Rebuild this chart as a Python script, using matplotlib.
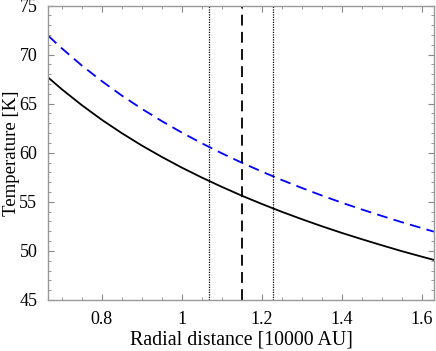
import matplotlib
matplotlib.use("Agg")
import matplotlib.pyplot as plt
from matplotlib.ticker import MultipleLocator, FuncFormatter

# Values
radius = [0.6665, 0.70, 0.75, 0.80, 0.85, 0.90, 0.95, 1.00, 1.05, 1.10, 1.15,
          1.20, 1.25, 1.30, 1.35, 1.40, 1.45, 1.50, 1.55, 1.60, 1.631]
temp_solid = [67.65, 66.47, 64.85, 63.36, 62.00, 60.74, 59.58, 58.49, 57.48, 56.53, 55.63,
              54.79, 53.99, 53.24, 52.52, 51.84, 51.20, 50.58, 49.98, 49.42, 49.08]
temp_dashed = [71.9, 70.64, 68.89, 67.30, 65.83, 64.48, 63.23, 62.06, 60.97, 59.95, 58.99,
               58.09, 57.23, 56.42, 55.65, 54.92, 54.23, 53.57, 52.93, 52.33, 51.96]
r_centre = 1.15
r_bounds = [1.069, 1.229]

plt.rcParams['font.family'] = ['Liberation Serif', 'DejaVu Serif']

fig = plt.figure(figsize=(4.36, 3.51), dpi=100)
ax = fig.add_axes([0.111, 0.1453, 0.8844, 0.839])

ax.plot(radius, temp_dashed, color='blue', lw=1.3, dashes=(6, 3.5))
ax.plot(radius, temp_solid, color='black', lw=1.3)
ax.axvline(r_centre, color='black', lw=1.3, dashes=(6, 3.5))
for rb in r_bounds:
    ax.axvline(rb, color='black', lw=0.9, ls=(0, (1, 1)))

ax.set_xlim(0.6665, 1.631)
ax.set_ylim(45, 75)
ax.xaxis.set_major_locator(MultipleLocator(0.2))
ax.xaxis.set_minor_locator(MultipleLocator(0.05))
ax.yaxis.set_major_locator(MultipleLocator(5))
ax.yaxis.set_minor_locator(MultipleLocator(1))
ax.xaxis.set_major_formatter(FuncFormatter(lambda v, p: f"{v:g}"))

ax.tick_params(which='both', direction='in', top=True, right=True,
               color='#888888', labelsize=13)
ax.tick_params(axis='x', pad=8)
ax.tick_params(axis='y', pad=8)
ax.tick_params(which='major', length=4, width=0.8)
ax.tick_params(which='minor', length=2.5, width=0.6)
for s in ax.spines.values():
    s.set_color('#999999')
    s.set_linewidth(1.0)

ax.set_xlabel('Radial distance [10000 AU]', fontsize=14.3, labelpad=2)
ax.set_ylabel('Temperature [K]', fontsize=13.5)
ax.yaxis.set_label_coords(-0.074, 0.5)

fig.savefig('out.png', dpi=100)
